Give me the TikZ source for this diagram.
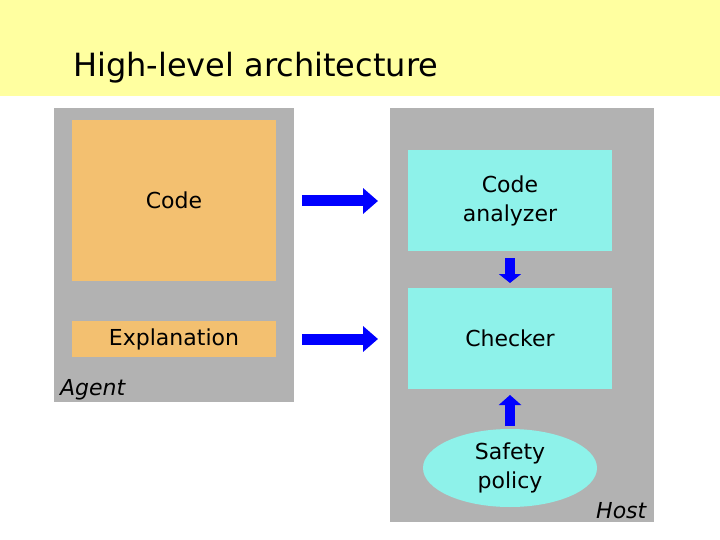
\documentclass[tikz,border=0pt]{standalone}
\usepackage{fontspec}
\setmainfont{DejaVu Sans}
\usetikzlibrary{arrows.meta,shapes.geometric}
\definecolor{band}{RGB}{255,255,160}
\definecolor{panel}{RGB}{178,178,178}
\definecolor{orng}{RGB}{243,192,112}
\definecolor{cyn}{RGB}{142,242,234}
\definecolor{arr}{RGB}{0,0,255}
\begin{document}
\begin{tikzpicture}[x=1pt,y=-1pt,
  box/.style={draw=none,inner sep=0pt,font=\fontsize{22}{29}\selectfont,align=center},
  fat/.style={arr,line width=11pt,-{Triangle[length=15pt,width=25pt]}}]
\useasboundingbox (0,0) rectangle (720,540);
\fill[white] (0,0) rectangle (720,540);
\fill[band] (0,0) rectangle (720,96);
\node[anchor=base west,inner sep=0pt,font=\fontsize{32}{36}\selectfont] (title) at (73,77) {High-level architecture};
\fill[panel] (54,108) rectangle (294,402);
\fill[panel] (390,108) rectangle (654,522);
\node[box,fill=orng,minimum width=204pt,minimum height=161pt] (code) at (174,200.5) {Code};
\node[box,fill=orng,minimum width=204pt,minimum height=36pt] (expl) at (174,339) {Explanation};
\node[box,fill=cyn,minimum width=204pt,minimum height=101pt] (ana) at (510,200.5) {Code\\analyzer};
\node[box,fill=cyn,minimum width=204pt,minimum height=101pt] (chk) at (510,338.5) {Checker};
\node[box,fill=cyn,ellipse,minimum width=174pt,minimum height=78pt] (pol) at (510,468) {Safety\\policy};
\node[anchor=base west,inner sep=0pt,font=\fontsize{22}{26}\selectfont\itshape] (agent) at (60,395) {Agent};
\node[anchor=base west,inner sep=0pt,font=\fontsize{22}{26}\selectfont\itshape] (host) at (596,518) {Host};
\coordinate (a1s) at (302,201); \coordinate (a1e) at (378,201);
\coordinate (a2s) at (302,339); \coordinate (a2e) at (378,339);
\coordinate (a3s) at (510,258); \coordinate (a3e) at (510,283);
\coordinate (a4s) at (510,426); \coordinate (a4e) at (510,395);
\draw[fat] (a1s) -- (a1e);
\draw[fat] (a2s) -- (a2e);
\draw[fat,line width=10pt,-{Triangle[length=9pt,width=22pt]}] (a3s) -- (a3e);
\draw[fat,line width=10pt,-{Triangle[length=10pt,width=22pt]}] (a4s) -- (a4e);
\end{tikzpicture}
\end{document}
